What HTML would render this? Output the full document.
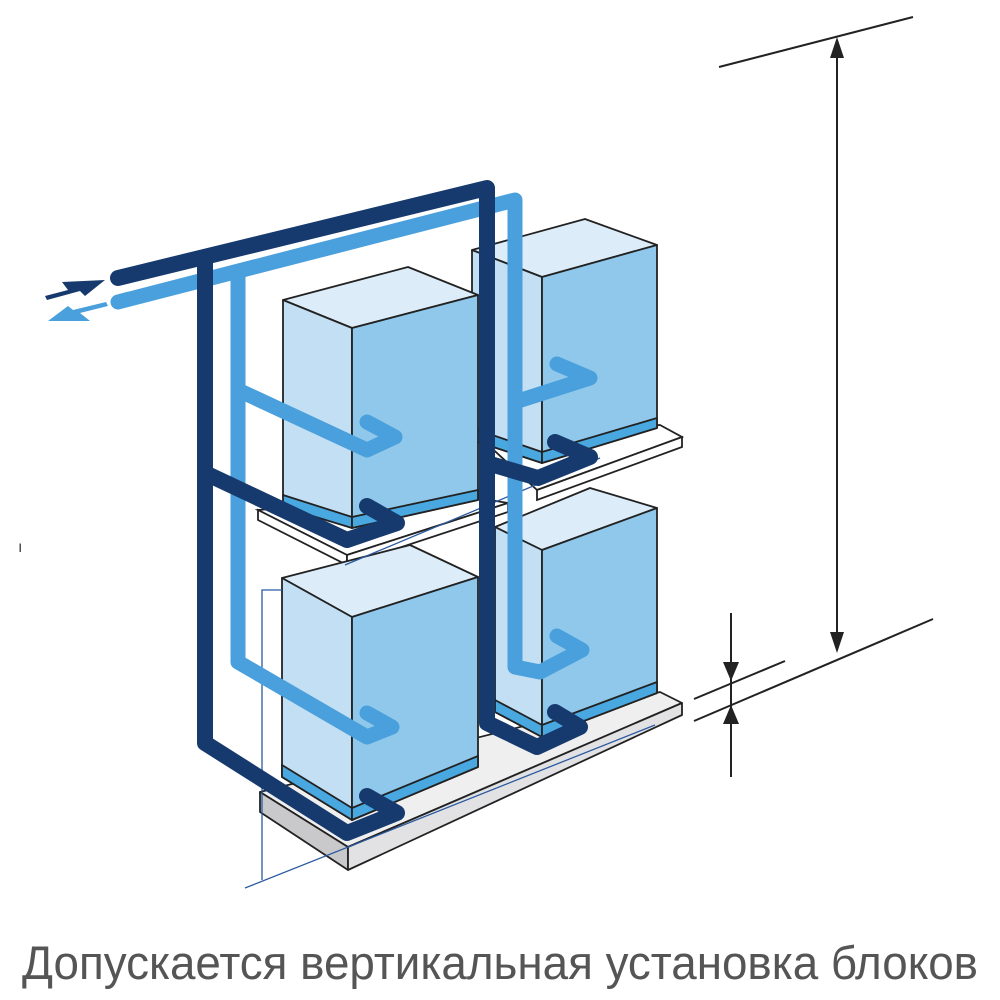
<!DOCTYPE html>
<html><head><meta charset="utf-8"><style>html,body{margin:0;padding:0;background:#fff}svg{display:block}</style></head>
<body>
<svg width="1000" height="1000" viewBox="0 0 1000 1000" xmlns="http://www.w3.org/2000/svg">
<rect width="1000" height="1000" fill="#fff"/>
<g stroke="#222" stroke-width="2" fill="#222">
<line x1="719" y1="67" x2="913" y2="17"/>
<line x1="837" y1="45" x2="837" y2="645"/>
<polygon points="837,37 830,58 844,58" stroke="none"/>
<polygon points="837,653 830,632 844,632" stroke="none"/>
<line x1="694" y1="699" x2="785" y2="661"/>
<line x1="694" y1="721" x2="933" y2="619"/>
<line x1="731" y1="613" x2="731" y2="777"/>
<polygon points="731,681 723,662 739,662" stroke="none"/>
<polygon points="731,705 723,724 739,724" stroke="none"/>
</g>
<text x="18" y="552" font-family="Liberation Sans, sans-serif" font-size="16" fill="#444">ı</text>
<g stroke="#222" stroke-width="1.8" stroke-linejoin="round">
<polygon points="260,792 660,692 682,703 348,847" fill="#efeff0"/>
<polygon points="260,792 348,847 348,870 260,812" fill="#c9c9cb"/>
<polygon points="348,847 682,703 682,715 348,870" fill="#e2e2e4"/>
</g>
<g stroke="#222" stroke-width="1.8" fill="#fff">
<polygon points="472,430 660,425 682,437 537,490"/>
<polygon points="537,490 682,437 682,447 537,500"/>
</g>
<g stroke="#222" stroke-width="1.8" stroke-linejoin="round">
<polygon points="472,250 585,219 657,245 542,277" fill="#dcedf9"/>
<polygon points="472,250 542,277 542,463 472,440" fill="#c2dff3"/>
<polygon points="542,277 657,245 657,428 542,463" fill="#8fc8ea"/>
<polygon points="472,428 542,452 542,463 472,440" fill="#4aa8e0"/>
<polygon points="542,452 657,418 657,428 542,463" fill="#4aa8e0"/>
</g>
<g stroke="#222" stroke-width="1.8" stroke-linejoin="round">
<polygon points="495,527 590,488 657,508 542,550" fill="#dcedf9"/>
<polygon points="495,527 542,550 542,737 495,712" fill="#c2dff3"/>
<polygon points="542,550 657,508 657,693 542,737" fill="#8fc8ea"/>
<polygon points="495,700 542,725 542,737 495,712" fill="#4aa8e0"/>
<polygon points="542,725 657,682 657,693 542,737" fill="#4aa8e0"/>
</g>
<g stroke="#222" stroke-width="1.8" fill="#fff">
<polygon points="258,510 460,495 508,503 347,555"/>
<polygon points="258,510 347,555 347,565 258,520"/>
<polygon points="347,555 508,503 508,512 347,565"/>
</g>
<g stroke="#222" stroke-width="1.8" stroke-linejoin="round">
<polygon points="282,578 410,545 478,577 352,617" fill="#dcedf9"/>
<polygon points="282,578 352,617 352,820 282,777" fill="#c2dff3"/>
<polygon points="352,617 478,577 478,767 352,820" fill="#8fc8ea"/>
<polygon points="282,765 352,808 352,820 282,777" fill="#4aa8e0"/>
<polygon points="352,808 478,756 478,767 352,820" fill="#4aa8e0"/>
</g>
<g stroke="#222" stroke-width="1.8" stroke-linejoin="round">
<polygon points="283,300 408,267 478,295 352,328" fill="#dcedf9"/>
<polygon points="283,300 352,328 352,528 283,497" fill="#c2dff3"/>
<polygon points="352,328 478,295 478,500 352,528" fill="#8fc8ea"/>
<polygon points="283,495 352,517 352,528 283,507" fill="#4aa8e0"/>
<polygon points="352,517 478,490 478,500 352,528" fill="#4aa8e0"/>
</g>
<g stroke="#2a5aa0" stroke-width="1.3" fill="none">
<polyline points="282,590 262,590 262,880"/>
<line x1="245" y1="888" x2="655" y2="725"/>
<line x1="345" y1="565" x2="600" y2="458"/>
</g>
<g stroke="#4aa0dc" stroke-width="15" fill="none" stroke-linecap="round" stroke-linejoin="round">
<polyline points="118,302 515,200 515,667 540,672 582,650 557,636"/>
<polyline points="515,402 590,378 557,364"/>
<polyline points="238,272 238,662 367,737 392,727 367,713"/>
<polyline points="238,390 367,450 395,437 367,422"/>
</g>
<g stroke="#173a6e" stroke-width="16" fill="none" stroke-linecap="round" stroke-linejoin="round">
<polyline points="118,278 487,188 487,723 537,747 580,727 555,712"/>
<polyline points="487,463 538,478 590,457 555,442"/>
<polyline points="205,258 205,743 347,833 397,813 367,796"/>
<polyline points="205,473 347,540 397,523 367,506"/>
</g>
<polygon points="45,296 68,290 62,282 105,280 85,296 80,291 47,300" fill="#173a6e"/>
<polygon points="108,306 80,313 90,321 48,321 68,306 73,310 106,302" fill="#4aa0dc"/>
<text x="22" y="979" font-family="Liberation Sans, sans-serif" font-size="47" fill="#555" textLength="956" lengthAdjust="spacingAndGlyphs">Допускается вертикальная установка блоков</text>
</svg>
</body></html>
